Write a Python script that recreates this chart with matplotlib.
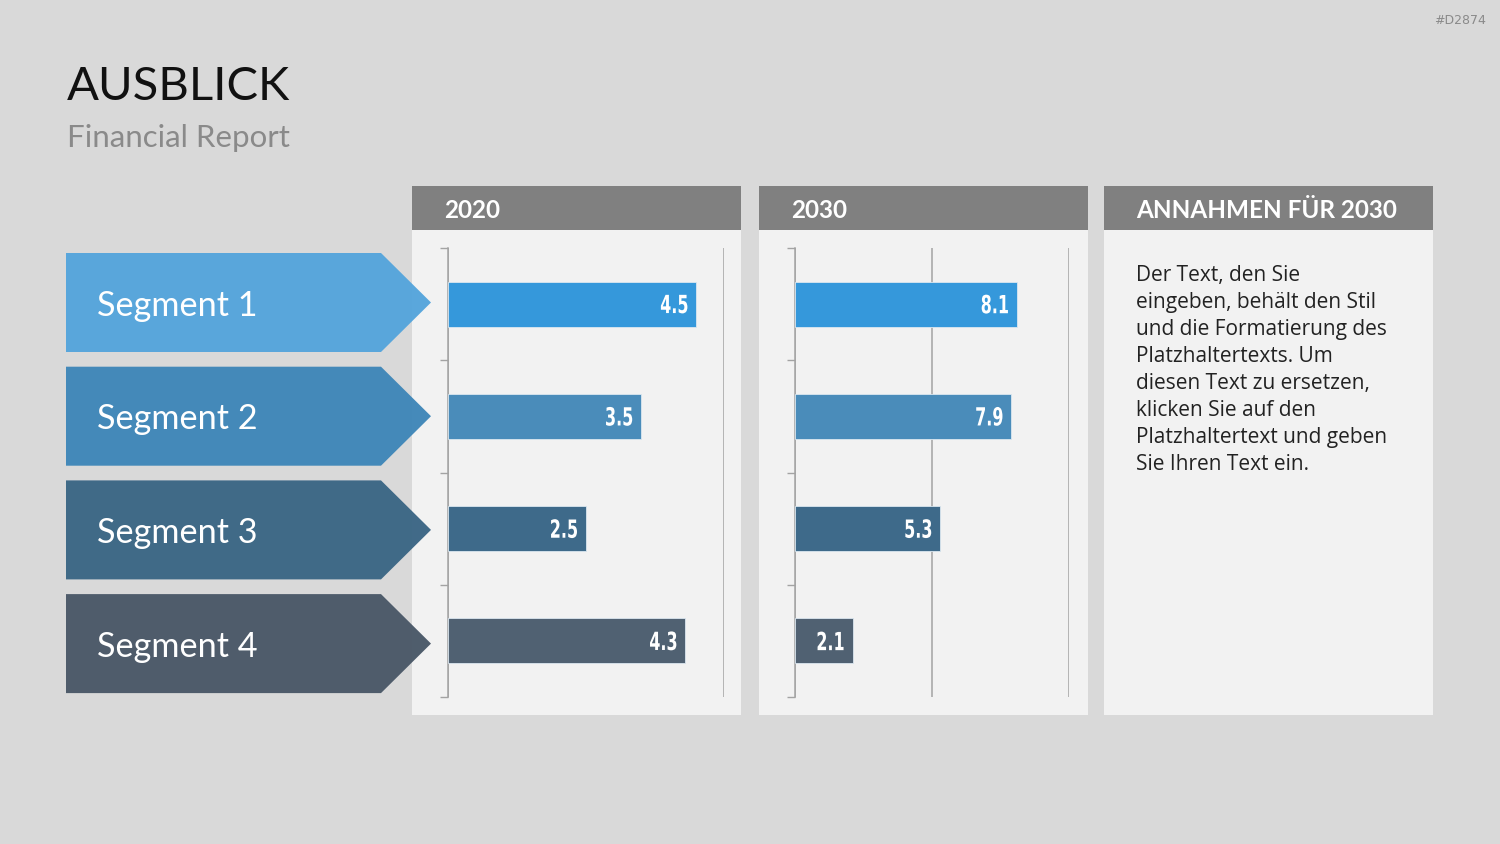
import matplotlib
matplotlib.use("Agg")
import matplotlib.pyplot as plt
from matplotlib.patches import Rectangle, Polygon, PathPatch
from matplotlib.textpath import TextPath
from matplotlib.font_manager import FontProperties
from matplotlib.transforms import Affine2D, IdentityTransform

# ---------------- data ----------------
segments = ["Segment 1", "Segment 2", "Segment 3", "Segment 4"]
values_2020 = [4.5, 3.5, 2.5, 4.3]
values_2030 = [8.1, 7.9, 5.3, 2.1]
headers = ["2020", "2030", "ANNAHMEN FÜR 2030"]
note_lines = [
    "Der Text, den Sie",
    "eingeben, behält den Stil",
    "und die Formatierung des",
    "Platzhaltertexts. Um",
    "diesen Text zu ersetzen,",
    "klicken Sie auf den",
    "Platzhaltertext und geben",
    "Sie Ihren Text ein.",
]

# ---------------- styles ----------------
arrow_colors = ["#55a5dc", "#3f87b8", "#3b6685", "#4a5868"]
bar_colors = ["#3598db", "#4a8cba", "#3e6a8a", "#506172"]
BG = "#d9d9d9"
PANEL = "#f2f2f2"
HEAD = "#808080"
LINE = "#a3a3a3"
FONT = "Lato"

W, H = 1500, 844
fig = plt.figure(figsize=(15, 8.44), dpi=100, facecolor=BG)

# background axes in pixel coordinates
bg = fig.add_axes([0, 0, 1, 1], zorder=0)
bg.set_xlim(0, W)
bg.set_ylim(H, 0)
bg.axis("off")

bg.text(67, 100, "AUSBLICK", fontsize=34, family=FONT, color="#111111", va="baseline")
bg.text(67, 147, "Financial Report", fontsize=22.5, family=FONT, color="#8a8a8a", va="baseline")
bg.text(1486, 20, "#D2874", fontsize=9, family="DejaVu Sans", color="#8a8a8a",
        ha="right", va="center")

# panels with headers
panel_x = [412, 759, 1104]
panel_w = 329
for px, title in zip(panel_x, headers):
    bg.add_patch(Rectangle((px, 230), panel_w, 485, facecolor=PANEL, edgecolor="none"))
    bg.add_patch(Rectangle((px, 186), panel_w, 44, facecolor=HEAD, edgecolor="none"))
    bg.text(px + 32, 210, title, fontsize=17.5, family=FONT, weight="bold",
            color="white", va="center")

# arrow labels
for i, (seg, col) in enumerate(zip(segments, arrow_colors)):
    top = 253 + i * 113.7
    bot = top + 99
    mid = (top + bot) / 2
    bg.add_patch(Polygon([(66, top), (381, top), (431, mid), (381, bot), (66, bot)],
                         closed=True, facecolor=col, edgecolor="none", alpha=0.97))
    bg.text(97, mid + 3, seg, fontsize=24.7, family=FONT, color="white", va="center")

# note text
for j, line in enumerate(note_lines):
    bg.text(1136, 275 + j * 27.1, line, fontsize=15, family="Open Sans", color="#222222",
            va="center")

label_font = FontProperties(family="DejaVu Sans", weight="bold")


def narrow_label(ax, v, yi):
    # condensed-looking value label: text outline squeezed horizontally
    tp = TextPath((0, 0), f"{v}", size=25, prop=label_font)
    ext = tp.get_extents()
    sx = 0.64
    xd, yd = ax.transData.transform((v, yi))
    tr = Affine2D().translate(-ext.x0, -ext.y0).scale(sx, 1.0) \
        .translate(xd - 9 - ext.width * sx, yd - ext.height / 2)
    fig.patches.append(PathPatch(tr.transform_path(tp), facecolor="white", edgecolor="none",
                                 transform=IdentityTransform(), figure=fig, zorder=5))


def bar_panel(left_px, right_px, values, xmax, grid_ticks):
    ax = fig.add_axes([left_px / W, 1 - 697 / H, (right_px - left_px) / W, 449 / H], zorder=2)
    ax.patch.set_alpha(0)
    y = range(len(values))
    ax.barh(list(y), values, height=0.4, color=bar_colors, edgecolor="#dbe7f0",
            linewidth=0.6, zorder=3)
    ax.set_xlim(0, xmax)
    ax.set_ylim(3.5, -0.5)
    ax.set_xticks(grid_ticks)
    ax.set_xticklabels([])
    ax.tick_params(axis="x", length=0)
    ax.grid(axis="x", color=LINE, linewidth=1.1, zorder=1)
    ax.set_yticks([-0.5, 0.5, 1.5, 2.5, 3.5])
    ax.set_yticklabels([])
    ax.tick_params(axis="y", direction="out", length=6, color=LINE, width=1)
    for s in ["top", "right", "bottom"]:
        ax.spines[s].set_visible(False)
    ax.spines["left"].set_color(LINE)
    ax.spines["left"].set_linewidth(1.1)
    for yi, v in zip(y, values):
        narrow_label(ax, v, yi)
    return ax


bar_panel(448, 724, values_2020, 5, [0, 5])
bar_panel(795, 1069, values_2030, 10, [0, 5, 10])

fig.savefig("out.png", dpi=100, facecolor=BG)
